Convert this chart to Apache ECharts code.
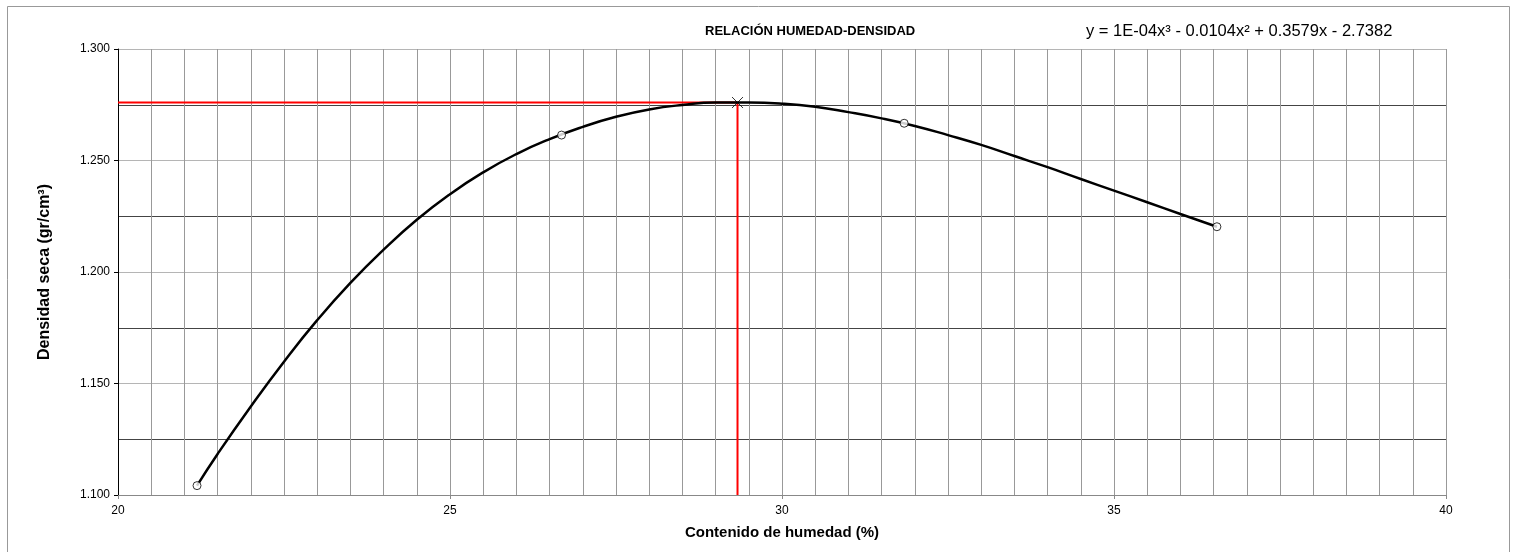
<!DOCTYPE html>
<html>
<head>
<meta charset="utf-8">
<script src="https://cdn.jsdelivr.net/npm/echarts@6/dist/echarts.min.js"></script>
<style>
  html, body { margin: 0; padding: 0; background: #fff; }
  #chart { width: 1518px; height: 552px; }
</style>
</head>
<body>
<div id="chart"></div>
<script>
// puntos del ensayo
const humedad = [21.19, 26.68, 31.84, 36.55];
const densidad = [1.1042, 1.2614, 1.2667, 1.2203];

// curva de ajuste
const curvaX = [21.19, 21.5, 22.0, 22.5, 23.0, 23.5, 24.0, 24.5, 25.0, 25.5, 26.0, 26.5, 27.0, 27.5, 28.0, 28.5, 29.0, 29.5, 30.0, 30.5, 31.0, 31.5, 32.0, 32.5, 33.0, 33.5, 34.0, 34.5, 35.0, 35.5, 36.0, 36.55];
const curvaY = [1.1042, 1.1184, 1.1397, 1.1598, 1.1784, 1.1951, 1.2100, 1.2234, 1.2349, 1.2447, 1.2529, 1.2596, 1.2651, 1.2696, 1.2729, 1.2749, 1.2760, 1.2760, 1.2755, 1.2741, 1.2717, 1.2689, 1.2655, 1.2614, 1.2570, 1.2520, 1.2470, 1.2417, 1.2365, 1.2313, 1.2260, 1.2203];

// humedad óptima y densidad máxima
const optX = 29.33;
const optY = 1.2760;

const xMin = 20, xMax = 40;
const yMin = 1.1, yMax = 1.3;

const titulo = 'RELACIÓN HUMEDAD-DENSIDAD';
const ecuacion = 'y = 1E-04x³ - 0.0104x² + 0.3579x - 2.7382';

const chart = echarts.init(document.getElementById('chart'));

const cruz = 'path://M0,0L10,10M10,0L0,10';

chart.setOption({
  animation: false,
  backgroundColor: '#fff',
  textStyle: { fontFamily: 'Liberation Sans, Arial, sans-serif' },
  grid: { left: 118, top: 49, right: 72, bottom: 57 },
  graphic: [
    {
      type: 'rect',
      shape: { x: 7.5, y: 6.5, width: 1502, height: 560 },
      style: { fill: 'none', stroke: '#999', lineWidth: 1 },
      silent: true
    },
    {
      type: 'text',
      left: 705, top: 25,
      style: {
        text: titulo,
        font: 'bold 13px "Liberation Sans Narrow", "Liberation Sans", Arial',
        fill: '#000'
      }
    },
    {
      type: 'text',
      left: 1086, top: 23,
      style: {
        text: ecuacion,
        font: '16.5px "Liberation Sans", Arial',
        fill: '#000'
      }
    }
  ],
  xAxis: {
    type: 'value',
    min: xMin, max: xMax, interval: 5,
    name: 'Contenido de humedad (%)',
    nameLocation: 'middle',
    nameGap: 30,
    nameTextStyle: { fontWeight: 'bold', fontSize: 15, color: '#000' },
    axisLine: { lineStyle: { color: '#888', width: 1 } },
    axisTick: { show: true, length: 4, lineStyle: { color: '#888' } },
    axisLabel: { color: '#000', fontSize: 12, margin: 10 },
    splitLine: { show: true, lineStyle: { color: '#999', width: 1 } },
    minorTick: { show: false, splitNumber: 10 },
    minorSplitLine: { show: true, lineStyle: { color: '#999', width: 1 } }
  },
  yAxis: {
    type: 'value',
    min: yMin, max: yMax, interval: 0.05,
    name: 'Densidad seca (gr/cm³)',
    nameLocation: 'middle',
    nameGap: 65,
    nameTextStyle: { fontWeight: 'bold', fontSize: 16, color: '#000' },
    axisLine: { show: true, lineStyle: { color: '#000', width: 1 } },
    axisTick: { show: true, length: 4, lineStyle: { color: '#000' } },
    axisLabel: { color: '#000', fontSize: 12, margin: 8, formatter: v => v.toFixed(3) },
    splitLine: { show: true, lineStyle: { color: '#b5b5b5', width: 1 } },
    minorTick: { show: false, splitNumber: 2 },
    minorSplitLine: { show: true, lineStyle: { color: '#444', width: 1 } }
  },
  series: [
    {
      name: 'optimo',
      type: 'line',
      data: [[xMin, optY], [optX, optY], [optX, yMin]],
      symbol: 'none',
      lineStyle: { color: '#ff0000', width: 2 },
      z: 2
    },
    {
      name: 'ajuste',
      type: 'line',
      data: curvaX.map((x, i) => [x, curvaY[i]]),
      smooth: true,
      symbol: 'none',
      lineStyle: { color: '#000', width: 2.5 },
      z: 3
    },
    {
      name: 'ensayo',
      type: 'scatter',
      data: humedad.map((x, i) => [x, densidad[i]]),
      symbol: 'circle',
      symbolSize: 8,
      itemStyle: { color: '#fff', borderColor: '#000', borderWidth: 1 },
      z: 4
    },
    {
      name: 'maximo',
      type: 'scatter',
      data: [[optX, optY]],
      symbol: cruz,
      symbolSize: 11,
      itemStyle: { color: 'none', borderColor: '#000', borderWidth: 1 },
      z: 5
    }
  ]
});
</script>
</body>
</html>
